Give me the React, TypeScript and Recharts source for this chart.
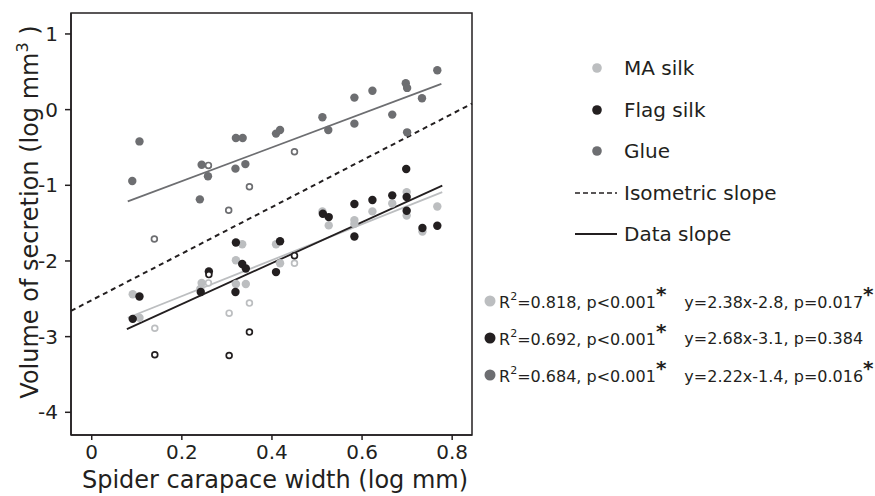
import { ScatterChart, Scatter, XAxis, YAxis, ReferenceLine, ReferenceArea } from 'recharts'

const INK = '#231f20'
const MA_GREY = '#bcbec0'
const GLUE_GREY = '#6d6e71'
const FONT = '"DejaVu Sans", sans-serif'

const X_DOMAIN = [-0.046, 0.844]
const Y_DOMAIN = [-4.3, 1.277]
const xTicks = [0, 0.2, 0.4, 0.6, 0.8]
const yTicks = [-4, -3, -2, -1, 0, 1]

// MA silk (light grey)
const maSilk = [
  { x: 0.091, y: -2.44 }, { x: 0.106, y: -2.75 }, { x: 0.244, y: -2.29 }, { x: 0.241, y: -2.37 },
  { x: 0.32, y: -2.305 }, { x: 0.342, y: -2.305 }, { x: 0.32, y: -1.99 }, { x: 0.334, y: -1.78 },
  { x: 0.409, y: -1.78 }, { x: 0.418, y: -2.03 }, { x: 0.512, y: -1.345 }, { x: 0.526, y: -1.53 },
  { x: 0.583, y: -1.46 }, { x: 0.583, y: -1.51 }, { x: 0.623, y: -1.345 }, { x: 0.667, y: -1.24 },
  { x: 0.699, y: -1.09 }, { x: 0.699, y: -1.4 }, { x: 0.734, y: -1.61 }, { x: 0.767, y: -1.28 },
]
const maSilkOpen = [
  { x: 0.14, y: -2.89 }, { x: 0.259, y: -2.29 }, { x: 0.305, y: -2.69 }, { x: 0.35, y: -2.557 }, { x: 0.45, y: -2.03 },
]

// Flag silk (black)
const flagSilk = [
  { x: 0.091, y: -2.765 }, { x: 0.106, y: -2.47 }, { x: 0.242, y: -2.41 }, { x: 0.26, y: -2.14 },
  { x: 0.319, y: -2.41 }, { x: 0.32, y: -1.755 }, { x: 0.334, y: -2.04 }, { x: 0.342, y: -2.1 },
  { x: 0.409, y: -2.147 }, { x: 0.418, y: -1.74 }, { x: 0.513, y: -1.376 }, { x: 0.526, y: -1.42 },
  { x: 0.583, y: -1.248 }, { x: 0.583, y: -1.676 }, { x: 0.623, y: -1.195 }, { x: 0.667, y: -1.133 },
  { x: 0.698, y: -0.785 }, { x: 0.699, y: -1.155 }, { x: 0.699, y: -1.336 }, { x: 0.734, y: -1.565 },
  { x: 0.767, y: -1.534 },
]
const flagSilkOpen = [
  { x: 0.14, y: -3.24 }, { x: 0.26, y: -2.18 }, { x: 0.305, y: -3.25 }, { x: 0.35, y: -2.94 }, { x: 0.45, y: -1.93 },
]

// Glue (dark grey)
const glue = [
  { x: 0.09, y: -0.944 }, { x: 0.106, y: -0.42 }, { x: 0.24, y: -1.186 }, { x: 0.244, y: -0.728 },
  { x: 0.258, y: -0.88 }, { x: 0.319, y: -0.78 }, { x: 0.32, y: -0.375 }, { x: 0.335, y: -0.375 },
  { x: 0.341, y: -0.72 }, { x: 0.409, y: -0.317 }, { x: 0.418, y: -0.27 }, { x: 0.512, y: -0.1 },
  { x: 0.525, y: -0.27 }, { x: 0.583, y: 0.159 }, { x: 0.583, y: -0.185 }, { x: 0.623, y: 0.25 },
  { x: 0.667, y: -0.066 }, { x: 0.697, y: 0.348 }, { x: 0.7, y: 0.287 }, { x: 0.7, y: -0.3 },
  { x: 0.733, y: 0.15 }, { x: 0.767, y: 0.52 },
]
const glueOpen = [
  { x: 0.139, y: -1.71 }, { x: 0.259, y: -0.737 }, { x: 0.304, y: -1.33 }, { x: 0.35, y: -1.02 }, { x: 0.45, y: -0.556 },
]

// fitted lines (end points)
const maFit = [{ x: 0.08, y: -2.75 }, { x: 0.778, y: -1.09 }]
const flagFit = [{ x: 0.078, y: -2.9 }, { x: 0.778, y: -1.005 }]
const glueFit = [{ x: 0.08, y: -1.213 }, { x: 0.776, y: 0.34 }]
const isometric = [{ x: -0.046, y: -2.66 }, { x: 0.844, y: 0.08 }]

const stats = [
  { color: MA_GREY, r2: '0.818', eq: 'y=2.38x-2.8, p=0.017', sig: true },
  { color: INK, r2: '0.692', eq: 'y=2.68x-3.1, p=0.384', sig: false },
  { color: GLUE_GREY, r2: '0.684', eq: 'y=2.22x-1.4, p=0.016', sig: true },
]

const legendItems = [
  { label: 'MA silk', color: MA_GREY, kind: 'dot' },
  { label: 'Flag silk', color: INK, kind: 'dot' },
  { label: 'Glue', color: GLUE_GREY, kind: 'dot' },
  { label: 'Isometric slope', color: INK, kind: 'dash' },
  { label: 'Data slope', color: INK, kind: 'line' },
]

const filledDot = (color: string) => (p: any) => <circle cx={p.cx} cy={p.cy} r={4.2} fill={color} />
const openDot = (color: string) => (p: any) => (
  <circle cx={p.cx} cy={p.cy} r={2.9} fill="#fff" stroke={color} strokeWidth={1.7} />
)

const asterisk = { fontSize: 20, position: 'relative' as const, top: -7, fontWeight: 'bold' as const }

export default function App() {
  return (
    <div style={{ position: 'absolute', left: 0, top: 0, width: 875, height: 496, background: '#fff', fontFamily: FONT, color: INK }}>
      <ScatterChart width={875} height={496} margin={{ top: 13, right: 403, bottom: 31, left: 0 }} style={{ fontFamily: FONT }}>
        <XAxis
          type="number"
          dataKey="x"
          domain={X_DOMAIN}
          ticks={xTicks}
          allowDataOverflow
          height={30}
          tickSize={5}
          tickMargin={5}
          axisLine={{ stroke: INK, strokeWidth: 1.5 }}
          tickLine={{ stroke: INK, strokeWidth: 1.5 }}
          tick={{ fill: INK, fontSize: 20 }}
          label={{
            content: () => (
              <text x={275} y={488} textAnchor="middle" fontSize={24} fill={INK} fontFamily={FONT}>
                Spider carapace width (log mm)
              </text>
            ),
          }}
        />
        <YAxis
          type="number"
          dataKey="y"
          domain={Y_DOMAIN}
          ticks={yTicks}
          allowDataOverflow
          width={71}
          tickSize={6}
          tickMargin={7}
          axisLine={{ stroke: INK, strokeWidth: 1.5 }}
          tickLine={{ stroke: INK, strokeWidth: 1.5 }}
          tick={{ fill: INK, fontSize: 20 }}
          label={{
            content: () => (
              <text x={38} y={212} transform="rotate(-90 38 212)" textAnchor="middle" fontSize={24} fill={INK} fontFamily={FONT}>
                Volume of secretion (log mm
                <tspan fontSize={16} dy={-10}>3</tspan>
                <tspan dy={10}> )</tspan>
              </text>
            ),
          }}
        />
        <ReferenceArea
          x1={X_DOMAIN[0]}
          x2={X_DOMAIN[1]}
          y1={Y_DOMAIN[0]}
          y2={Y_DOMAIN[1]}
          fill="none"
          stroke={INK}
          strokeWidth={1.5}
          ifOverflow="visible"
        />
        <ReferenceLine segment={isometric} stroke={INK} strokeWidth={2} strokeDasharray="5 4" ifOverflow="visible" />
        <Scatter data={maSilk} shape={filledDot(MA_GREY)} isAnimationActive={false} />
        <Scatter data={maSilkOpen} shape={openDot(MA_GREY)} isAnimationActive={false} />
        <Scatter data={flagSilk} shape={filledDot(INK)} isAnimationActive={false} />
        <Scatter data={flagSilkOpen} shape={openDot(INK)} isAnimationActive={false} />
        <Scatter data={glue} shape={filledDot(GLUE_GREY)} isAnimationActive={false} />
        <Scatter data={glueOpen} shape={openDot(GLUE_GREY)} isAnimationActive={false} />
        <ReferenceLine segment={maFit} stroke={MA_GREY} strokeWidth={1.8} ifOverflow="visible" />
        <ReferenceLine segment={flagFit} stroke={INK} strokeWidth={1.8} ifOverflow="visible" />
        <ReferenceLine segment={glueFit} stroke={GLUE_GREY} strokeWidth={1.8} ifOverflow="visible" />
      </ScatterChart>

      {/* legend */}
      {legendItems.map((it, i) => (
        <div
          key={it.label}
          style={{ position: 'absolute', left: 574, top: 68 + i * 41.5 - 13, height: 26, display: 'flex', alignItems: 'center', fontSize: 20 }}
        >
          <svg width={44} height={26} style={{ display: 'block' }}>
            {it.kind === 'dot' && <circle cx={23} cy={13} r={4.8} fill={it.color} />}
            {it.kind === 'dash' && <line x1={1} x2={43} y1={13} y2={13} stroke={it.color} strokeWidth={1.6} strokeDasharray="5 3" />}
            {it.kind === 'line' && <line x1={1} x2={43} y1={13} y2={13} stroke={it.color} strokeWidth={1.8} />}
          </svg>
          <span style={{ marginLeft: 6, whiteSpace: 'nowrap' }}>{it.label}</span>
        </div>
      ))}

      {/* regression statistics */}
      {stats.map((s, i) => (
        <div
          key={s.r2}
          style={{ position: 'absolute', left: 483, top: 301 + i * 37 - 12, height: 24, display: 'flex', alignItems: 'center', fontSize: 16, whiteSpace: 'nowrap' }}
        >
          <svg width={14} height={14} style={{ display: 'block' }}>
            <circle cx={7} cy={7} r={5.5} fill={s.color} />
          </svg>
          <span style={{ marginLeft: 2 }}>
            R<span style={{ fontSize: 11, position: 'relative', top: -8 }}>2</span>={s.r2}, p&lt;0.001
            <span style={asterisk}>*</span>
          </span>
          <span style={{ marginLeft: 18 }}>
            {s.eq}
            {s.sig && <span style={asterisk}>*</span>}
          </span>
        </div>
      ))}
    </div>
  )
}
